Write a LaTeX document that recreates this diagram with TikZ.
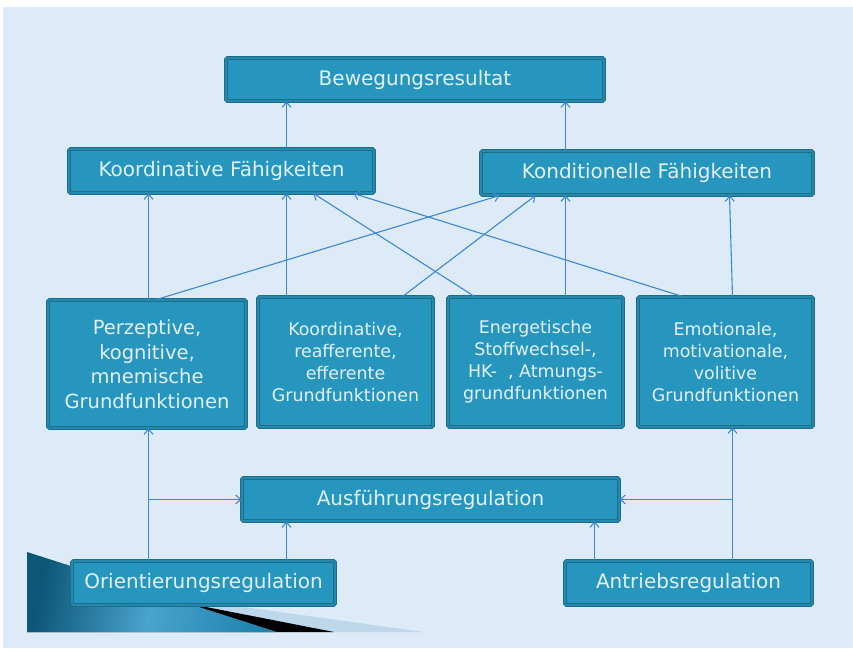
\documentclass[tikz,border=0pt]{standalone}
\usepackage{fontspec}
\setmainfont{DejaVu Sans}
\usetikzlibrary{arrows.meta,calc}

\definecolor{bgblue}{HTML}{DDEAF7}
\definecolor{boxfill}{HTML}{2696BE}
\definecolor{boxedge}{HTML}{1D6C88}
\definecolor{boxtext}{HTML}{E2F0F7}
\definecolor{linkblue}{HTML}{3D88D4}
\definecolor{wedgedark}{HTML}{0C5677}
\definecolor{wedgemid}{HTML}{4AA3CC}
\definecolor{wedgeright}{HTML}{1F84AE}
\definecolor{wedgelight}{HTML}{BDD8EB}

\tikzset{
  fbox/.style={draw=boxedge, double=boxfill!70!boxedge, line width=1pt, double distance=1.6pt,
    fill=boxfill, rounded corners=1.5pt, text=boxtext, align=center, inner sep=0pt},
  onebox/.style={fbox, font=\fontsize{20}{24}\selectfont},
  bigbox/.style={fbox, minimum width=175pt, minimum height=130pt, font=\fontsize{17.4}{22}\selectfont},
  link/.style={draw=linkblue, line width=1.1pt, -{Straight Barb[length=5pt,width=9pt]}},
}

\begin{document}
\begin{tikzpicture}[x=1pt,y=1pt,yscale=-1,xscale=1]
        \useasboundingbox (0,0) rectangle (853,652);
        % background
        \fill[white] (0,0) rectangle (853,652);
        \fill[bgblue] (3,7) rectangle (853,648);

        %Shape: corner wedges
        \fill[wedgelight] (27,577) -- (424,632) -- (27,632) -- cycle;
        \fill[black] (27,572) -- (334,632) -- (27,632) -- cycle;
        \shade[left color=wedgedark, right color=wedgeright, middle color=wedgemid, shading angle=80]
            (27,552) -- (277,632) -- (27,632) -- cycle;

        % Text Nodes
        \node[onebox, minimum width=378pt, minimum height=43pt] (res) at (415,79.5) {Bewegungsresultat};
        \node[onebox, minimum width=305pt, minimum height=44pt] (kf) at (221.5,171) {Koordinative Fähigkeiten};
        \node[onebox, minimum width=332pt, minimum height=44pt] (kond) at (647,173) {Konditionelle Fähigkeiten};

        \node[bigbox, minimum width=198pt, minimum height=128pt, font=\fontsize{19.5}{24.5}\selectfont] (perz) at (147,364)
            {Perzeptive,\\kognitive,\\mnemische\\Grundfunktionen};
        \node[bigbox] (koord) at (345.5,362) {Koordinative,\\reafferente,\\efferente\\Grundfunktionen};
        \node[bigbox] (ener) at (535.5,362) {Energetische\\Stoffwechsel-,\\HK- \ , Atmungs-\\grundfunktionen};
        \node[bigbox] (emo) at (725.5,362) {Emotionale,\\motivationale,\\volitive\\Grundfunktionen};

        \node[onebox, minimum width=377pt, minimum height=43pt] (ausf) at (430.5,499.5) {Ausführungsregulation};
        \node[onebox, minimum width=263pt, minimum height=44pt] (orient) at (203.5,583) {Orientierungsregulation};
        \node[onebox, minimum width=247pt, minimum height=44pt] (antr) at (688.5,583) {Antriebsregulation};

        %Straight Lines
        \draw[link] ($(kf.north west)+(218,0)$) -- ($(res.south west)+(61,0)$);
        \draw[link] ($(kond.north west)+(85,0)$) -- ($(res.south west)+(340,0)$);

        \draw[link] ($(perz.north west)+(101,0)$) -- ($(kf.south west)+(80,0)$);
        \draw[link] ($(perz.north west)+(109,0)$) -- ($(kond.south west)+(19,0)$);
        \draw[link] ($(koord.north west)+(29,0)$) -- ($(kf.south west)+(218,0)$);
        \draw[link] ($(koord.north west)+(145,0)$) -- ($(kond.south west)+(55,0)$);
        \draw[link] ($(ener.north west)+(27,0)$) -- ($(kf.south west)+(245,0)$);
        \draw[link] ($(ener.north west)+(118,0)$) -- ($(kond.south west)+(85,0)$);
        \draw[link] ($(emo.north west)+(45,0)$) -- ($(kf.south west)+(285,0)$);
        \draw[link] ($(emo.north west)+(95,0)$) -- ($(kond.south west)+(249,0)$);

        \draw[link] ($(orient.north west)+(77,0)$) -- ($(perz.south west)+(101,0)$);
        \draw[link] ($(orient.north west)+(77,0)$) |- (ausf.west);
        \draw[link] ($(orient.north west)+(215,0)$) -- ($(ausf.south west)+(45,0)$);
        \draw[link] ($(antr.north west)+(168,0)$) -- ($(emo.south west)+(95,0)$);
        \draw[link] ($(antr.north west)+(168,0)$) |- (ausf.east);
        \draw[link] ($(antr.north west)+(30,0)$) -- ($(ausf.south west)+(353,0)$);

\end{tikzpicture}
\end{document}
